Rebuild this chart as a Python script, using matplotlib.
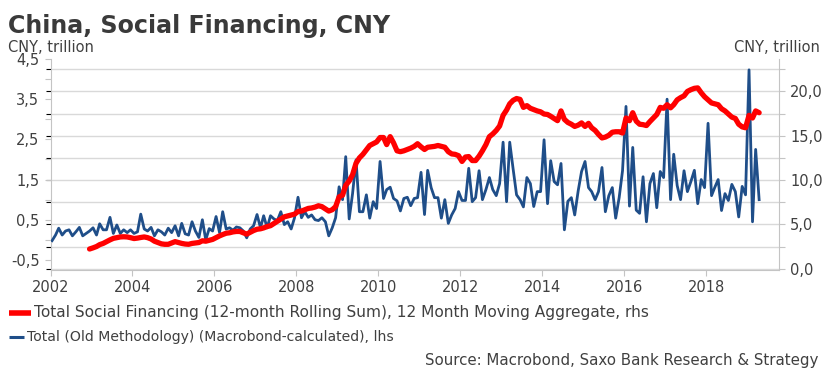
import matplotlib
matplotlib.use('Agg')
import matplotlib.pyplot as plt
import matplotlib.dates as mdates
from matplotlib.ticker import MultipleLocator, FuncFormatter
from matplotlib.lines import Line2D
import pandas as pd

title = 'China, Social Financing, CNY'
unit_label = 'CNY, trillion'
red_label = 'Total Social Financing (12-month Rolling Sum), 12 Month Moving Aggregate, rhs'
blue_label = 'Total (Old Methodology) (Macrobond-calculated), lhs'
source_text = 'Source: Macrobond, Saxo Bank Research & Strategy'

# monthly flow, old methodology (lhs, CNY trn), Jan 2002 - Apr 2019
blue_start = '2002-01-01'
blue_vals = [
    -0.02, 0.12, 0.29, 0.12, 0.22, 0.25, 0.10, 0.20, 0.31, 0.10, 0.16, 0.22,
    0.30, 0.12, 0.40, 0.25, 0.25, 0.56, 0.16, 0.37, 0.16, 0.25, 0.18, 0.25,
    0.16, 0.20, 0.64, 0.27, 0.22, 0.31, 0.10, 0.25, 0.20, 0.12, 0.29, 0.18,
    0.35, 0.10, 0.41, 0.15, 0.12, 0.45, 0.22, 0.06, 0.50, 0.00, 0.28, 0.22,
    0.58, 0.18, 0.70, 0.27, 0.30, 0.24, 0.32, 0.30, 0.22, 0.05, 0.27, 0.35,
    0.63, 0.30, 0.60, 0.30, 0.60, 0.52, 0.48, 0.70, 0.38, 0.45, 0.27, 0.55,
    1.06, 0.55, 0.70, 0.56, 0.62, 0.50, 0.48, 0.55, 0.45, 0.10, 0.30, 0.55,
    1.32, 1.00, 2.07, 0.52, 1.15, 1.99, 0.70, 0.70, 1.12, 0.54, 0.95, 0.78,
    1.95, 1.03, 1.25, 1.31, 1.03, 0.97, 0.72, 1.03, 1.06, 0.85, 1.03, 1.05,
    1.68, 0.63, 1.73, 1.30, 1.05, 1.05, 0.54, 1.00, 0.41, 0.62, 0.78, 1.20,
    0.98, 0.98, 1.78, 0.95, 1.05, 1.72, 1.00, 1.25, 1.55, 1.25, 1.10, 1.40,
    2.43, 0.95, 2.43, 1.75, 1.12, 1.00, 0.82, 1.55, 1.40, 0.83, 1.20, 1.20,
    2.49, 0.90, 1.97, 1.45, 1.37, 1.90, 0.25, 0.96, 1.05, 0.62, 1.22, 1.70,
    1.95, 1.30, 1.20, 1.00, 1.20, 1.80, 0.70, 1.10, 1.30, 0.54, 1.05, 1.72,
    3.32, 0.84, 2.30, 0.74, 0.66, 1.57, 0.45, 1.40, 1.65, 0.80, 1.70, 1.55,
    3.50, 1.00, 2.13, 1.35, 1.00, 1.72, 1.20, 1.45, 1.73, 0.90, 1.50, 1.30,
    2.90, 1.10, 1.30, 1.50, 0.73, 1.15, 0.98, 1.38, 1.20, 0.57, 1.33, 1.12,
    4.23, 0.45, 2.25, 1.00,
]

# 12-month rolling sum (rhs, CNY trn), Dec 2002 - Apr 2019
red_start = '2002-12-01'
red_vals = [
    2.22,
    2.35, 2.50, 2.71, 2.85, 3.05, 3.25, 3.42, 3.50, 3.58, 3.60, 3.58, 3.50,
    3.40, 3.45, 3.52, 3.58, 3.50, 3.35, 3.10, 2.95, 2.80, 2.75, 2.75, 2.90,
    3.05, 2.95, 2.85, 2.78, 2.75, 2.85, 2.90, 2.95, 3.15, 3.10, 3.20, 3.30,
    3.50, 3.70, 3.85, 4.00, 4.05, 4.15, 4.20, 4.20, 4.05, 3.90, 4.10, 4.30,
    4.45, 4.50, 4.60, 4.75, 4.85, 5.10, 5.35, 5.60, 5.85, 5.95, 6.05, 6.15,
    6.45, 6.50, 6.65, 6.80, 6.85, 6.95, 7.10, 7.00, 6.75, 6.50, 6.65, 7.00,
    8.10, 8.30, 9.40, 9.90, 10.60, 11.90, 12.50, 12.90, 13.40, 13.90, 14.10, 14.30,
    14.80, 14.80, 14.00, 14.90, 14.20, 13.30, 13.20, 13.30, 13.45, 13.60, 13.80, 14.10,
    13.75, 13.45, 13.70, 13.75, 13.80, 13.90, 13.80, 13.70, 13.20, 12.95, 12.90, 12.75,
    12.10, 12.60, 12.65, 12.20, 12.20, 12.70, 13.30, 14.00, 14.90, 15.20, 15.60, 16.10,
    17.30, 17.90, 18.60, 19.00, 19.20, 19.10, 18.20, 18.40, 18.10, 17.95, 17.80, 17.70,
    17.45, 17.40, 17.20, 16.95, 16.70, 17.80, 16.85, 16.50, 16.30, 16.05, 16.20, 16.45,
    16.05, 16.40, 15.90, 15.60, 15.15, 14.75, 14.85, 15.05, 15.40, 15.45, 15.45, 15.30,
    17.00, 16.70, 17.60, 16.65, 16.30, 16.25, 16.15, 16.60, 17.00, 17.40, 18.20, 18.10,
    18.50, 18.15, 18.50, 19.05, 19.30, 19.50, 20.00, 20.20, 20.35, 20.40, 19.85, 19.40,
    19.05, 18.70, 18.60, 18.50, 18.05, 17.80, 17.45, 17.10, 16.95, 16.30, 16.00, 15.90,
    17.30, 17.00, 17.80, 17.60,
]

RED = '#ff0000'
BLUE = '#1f4e89'
TXT = '#404040'
GRID = '#d9d9d9'
SPINE = '#c4c4c4'

blue_dates = pd.date_range(blue_start, periods=len(blue_vals), freq='MS') + pd.Timedelta(days=14)
red_dates = pd.date_range(red_start, periods=len(red_vals), freq='MS') + pd.Timedelta(days=14)


def labeller(step, offset=0.0):
    # label only every `step` (shifted by offset), decimal comma
    def f(v, pos):
        k = (v - offset) / step
        if abs(k - round(k)) > 1e-6:
            return ''
        return ('%.1f' % v).replace('.', ',')
    return f


def main():
    W, H = 830, 382
    fig = plt.figure(figsize=(W / 100, H / 100), dpi=100)
    x0, x1, y0, y1 = 50.5, 779, 59, 270
    rect = [x0 / W, 1 - y1 / H, (x1 - x0) / W, (y1 - y0) / H]

    # base axes carries the grid (right-hand scale) and the date axis
    base = fig.add_axes(rect)
    base.set_ylim(-0.15, 23.66)
    base.yaxis.set_major_locator(MultipleLocator(2.5))
    base.grid(axis='y', color=GRID, lw=1)
    base.tick_params(axis='y', left=False, right=False, labelleft=False)
    base.set_axisbelow(True)
    base.spines['top'].set_visible(False)
    for s in ['left', 'right', 'bottom']:
        base.spines[s].set_color(SPINE)
    base.set_xlim(pd.Timestamp('2002-01-01'), pd.Timestamp('2019-10-09'))
    base.xaxis.set_major_locator(mdates.YearLocator(2))
    base.xaxis.set_major_formatter(mdates.DateFormatter('%Y'))
    base.tick_params(axis='x', direction='out', length=4, color=SPINE,
                     labelsize=10.5, labelcolor=TXT, pad=3)

    axl = base.twinx()
    axl.yaxis.tick_left()
    axl.set_ylim(-0.75, 4.5)
    axl.yaxis.set_major_locator(MultipleLocator(0.5))
    axl.yaxis.set_major_formatter(FuncFormatter(labeller(1.0, offset=0.5)))
    axl.tick_params(axis='y', direction='out', length=4, color=SPINE,
                    labelsize=10.5, labelcolor=TXT, pad=4)
    axl.plot(blue_dates, blue_vals, color=BLUE, lw=2.0)

    axr = base.twinx()
    axr.set_ylim(-0.15, 23.66)
    axr.yaxis.set_major_locator(MultipleLocator(2.5))
    axr.yaxis.set_major_formatter(FuncFormatter(labeller(5.0)))
    axr.tick_params(axis='y', direction='out', length=4, color=SPINE,
                    labelsize=10.5, labelcolor=TXT, pad=4)
    axr.plot(red_dates, red_vals, color=RED, lw=3.8, solid_capstyle='round')

    for a in (axl, axr):
        for s in a.spines.values():
            s.set_visible(False)
        a.patch.set_visible(False)

    fig.text(8 / W, 1 - 33 / H, title, fontsize=17.1, fontweight='bold',
             color='#3a3a3a', va='baseline', ha='left')
    fig.text(8 / W, 1 - 47 / H, unit_label, fontsize=10.5, color=TXT, va='center', ha='left')
    fig.text(820 / W, 1 - 47 / H, unit_label, fontsize=10.5, color=TXT, va='center', ha='right')

    # legend
    ly1, ly2 = 1 - 313 / H, 1 - 337 / H
    fig.add_artist(Line2D([9 / W, 31 / W], [ly1, ly1], color=RED, lw=4.0,
                          solid_capstyle='butt', transform=fig.transFigure))
    fig.add_artist(Line2D([9 / W, 24 / W], [ly2, ly2], color=BLUE, lw=2.2,
                          solid_capstyle='butt', transform=fig.transFigure))
    fig.text(34 / W, ly1, red_label, fontsize=11.05, color=TXT, va='center', ha='left')
    fig.text(27 / W, ly2, blue_label, fontsize=10.1, color=TXT, va='center', ha='left')
    fig.text(818 / W, 1 - 360 / H, source_text, fontsize=10.8, color=TXT, va='center', ha='right')

    fig.savefig('out.png', dpi=100)


if __name__ == '__main__':
    main()
